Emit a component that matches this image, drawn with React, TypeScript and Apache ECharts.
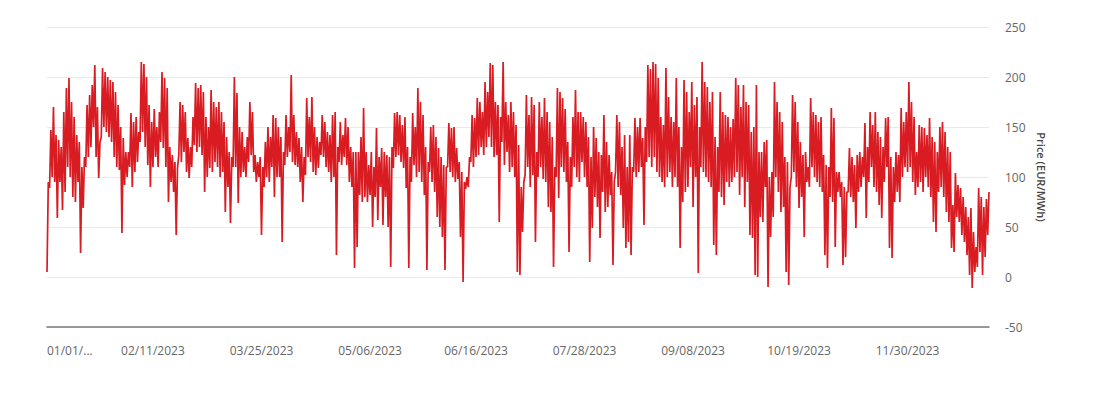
import React, { useEffect, useRef } from "react";
import * as echarts from "echarts";

// Daily price troughs (EUR/MWh), 2023
const LOWS: number[] = [
  5, 89, 100, 95, 59, 95, 67, 85, 110, 100,
  80, 75, 95, 24, 69, 110, 120, 130, 150, 120,
  99, 140, 150, 145, 140, 135, 120, 110, 107, 44,
  92, 100, 110, 90, 105, 115, 135, 145, 130, 112,
  90, 110, 120, 110, 135, 129, 110, 75, 95, 85,
  42, 122, 115, 125, 105, 99, 110, 132, 125, 130,
  122, 85, 100, 109, 105, 115, 110, 100, 105, 65,
  90, 54, 110, 110, 74, 100, 105, 100, 115, 122,
  105, 95, 100, 42, 90, 100, 95, 110, 80, 100,
  100, 35, 112, 120, 125, 115, 112, 110, 95, 75,
  102, 120, 115, 105, 102, 109, 122, 120, 110, 105,
  95, 100, 22, 115, 112, 120, 112, 95, 90, 9,
  30, 82, 75, 80, 75, 82, 50, 80, 57, 90,
  52, 80, 50, 10, 109, 120, 122, 115, 109, 89,
  9, 95, 112, 100, 105, 95, 82, 7, 105, 95,
  85, 60, 50, 40, 7, 110, 105, 100, 95, 98,
  40, -5, 88, 90, 115, 110, 120, 122, 130, 122,
  130, 140, 130, 120, 122, 55, 135, 112, 125, 105,
  110, 100, 5, 2, 45, 102, 110, 90, 102, 35,
  100, 110, 98, 95, 70, 65, 10, 100, 79, 110,
  105, 95, 25, 90, 110, 100, 95, 115, 100, 90,
  15, 49, 80, 70, 39, 85, 65, 70, 82, 12,
  105, 90, 82, 49, 29, 35, 22, 105, 100, 105,
  110, 52, 115, 120, 110, 120, 105, 100, 95, 90,
  100, 105, 90, 100, 90, 29, 75, 85, 90, 110,
  70, 100, 4, 110, 105, 100, 95, 90, 32, 22,
  85, 80, 72, 95, 90, 95, 100, 105, 82, 100,
  70, 95, 42, 39, 2, 0, 60, 55, 90, -10,
  40, 60, 100, 85, 65, 70, 5, -8, 100, 105,
  90, 69, 80, 40, 95, 90, 110, 100, 95, 90,
  85, 22, 9, 80, 75, 30, 85, 80, 12, 20,
  85, 80, 75, 49, 85, 90, 100, 59, 95, 110,
  90, 85, 72, 59, 95, 110, 29, 19, 75, 85,
  75, 100, 110, 105, 110, 95, 82, 90, 95, 85,
  100, 90, 80, 55, 45, 85, 90, 80, 65, 55,
  29, 25, 60, 55, 42, 35, 22, 2, -11, 5,
  10, 25, 2, 20, 42,
];

// Daily price peaks (EUR/MWh), 2023
const HIGHS: number[] = [
  95, 147, 170, 142, 137, 130, 165, 189, 199, 175,
  160, 142, 135, 110, 120, 172, 182, 192, 212, 170,
  135, 209, 205, 200, 197, 195, 185, 172, 150, 139,
  125, 125, 164, 155, 160, 145, 215, 213, 200, 172,
  155, 168, 150, 165, 205, 199, 189, 130, 122, 115,
  109, 175, 172, 165, 139, 130, 160, 194, 189, 192,
  185, 160, 150, 187, 175, 170, 175, 165, 155, 140,
  125, 120, 200, 184, 150, 145, 130, 140, 175, 165,
  122, 115, 120, 110, 135, 150, 140, 162, 159, 150,
  140, 125, 162, 150, 202, 162, 145, 139, 130, 120,
  179, 160, 180, 150, 140, 135, 162, 155, 145, 142,
  162, 165, 130, 155, 142, 159, 150, 130, 125, 125,
  125, 140, 169, 125, 112, 125, 110, 149, 120, 129,
  125, 122, 120, 130, 164, 165, 162, 152, 160, 130,
  120, 164, 150, 189, 175, 162, 130, 115, 150, 152,
  140, 129, 120, 112, 110, 154, 149, 150, 129, 115,
  105, 95, 100, 120, 162, 159, 179, 175, 165, 195,
  185, 214, 212, 175, 172, 160, 215, 175, 162, 175,
  165, 152, 132, 90, 95, 182, 162, 180, 172, 125,
  175, 160, 179, 165, 155, 140, 110, 189, 185, 179,
  168, 135, 120, 160, 187, 165, 165, 160, 155, 140,
  120, 150, 139, 125, 122, 162, 135, 122, 105, 95,
  162, 155, 130, 142, 110, 142, 110, 159, 150, 159,
  139, 150, 212, 208, 215, 213, 199, 160, 152, 209,
  180, 160, 155, 199, 150, 130, 197, 185, 165, 195,
  172, 180, 150, 215, 195, 190, 175, 185, 140, 130,
  185, 165, 162, 160, 150, 158, 199, 192, 170, 192,
  175, 172, 145, 150, 192, 125, 125, 135, 137, 100,
  105, 195, 175, 165, 155, 120, 115, 90, 182, 175,
  155, 135, 122, 125, 110, 179, 165, 162, 155, 160,
  122, 112, 110, 169, 159, 105, 105, 95, 90, 85,
  129, 120, 112, 122, 125, 120, 154, 130, 165, 152,
  165, 145, 140, 130, 159, 160, 120, 110, 125, 122,
  169, 155, 165, 195, 175, 160, 125, 152, 150, 149,
  142, 159, 140, 135, 125, 150, 155, 145, 130, 125,
  72, 104, 92, 89, 80, 70, 60, 69, 45, 30,
  89, 80, 70, 78, 85,
];

const TICK_DATES: string[] = [
  "01/01/2023",
  "02/11/2023",
  "03/25/2023",
  "05/06/2023",
  "06/16/2023",
  "07/28/2023",
  "09/08/2023",
  "10/19/2023",
  "11/30/2023",
];
const FIRST_TICK_TEXT = "01/01/...";
const Y_NAME = "Price (EUR/MWh)";
const Y_MIN = -50;
const Y_MAX = 250;
const Y_STEP = 50;

function pad(n: number): string {
  return n < 10 ? "0" + n : String(n);
}

function buildCategories(days: number): string[] {
  const out: string[] = [];
  for (let d = 0; d < days; d++) {
    const dt = new Date(Date.UTC(2023, 0, 1 + d));
    const s = `${pad(dt.getUTCMonth() + 1)}/${pad(dt.getUTCDate())}/${dt.getUTCFullYear()}`;
    out.push(`${s} 04:00`, `${s} 19:00`);
  }
  return out;
}

export default function App() {
  const ref = useRef<HTMLDivElement>(null);

  useEffect(() => {
    if (!ref.current) return;
    const chart = echarts.init(ref.current, undefined, { renderer: "svg" });
    const n = Math.min(LOWS.length, HIGHS.length);
    const categories = buildCategories(n);
    const values: number[] = [];
    for (let i = 0; i < n; i++) {
      values.push(LOWS[i], HIGHS[i]);
    }
    chart.setOption({
      animation: false,
      backgroundColor: "#ffffff",
      grid: { left: 47, right: 109, top: 27, bottom: 68 },
      xAxis: {
        type: "category",
        data: categories,
        boundaryGap: false,
        axisLine: { onZero: false, lineStyle: { color: "#7a7a7a", width: 1.5 } },
        axisTick: { show: false },
        splitLine: { show: false },
        axisLabel: {
          interval: (index: number, value: string) =>
            index % 2 === 0 && TICK_DATES.indexOf(value.slice(0, 10)) >= 0,
          formatter: (value: string) => {
            const d = value.slice(0, 10);
            return d === TICK_DATES[0] ? FIRST_TICK_TEXT : d;
          },
          alignMinLabel: "left",
          color: "#666666",
          fontSize: 12,
          fontFamily: "Open Sans",
          margin: 17,
          hideOverlap: false,
        },
      },
      yAxis: {
        type: "value",
        position: "right",
        min: Y_MIN,
        max: Y_MAX,
        interval: Y_STEP,
        axisLine: { show: false },
        axisTick: { show: false },
        splitLine: { lineStyle: { color: "#e9e9e9", width: 1 } },
        axisLabel: {
          color: "#666666",
          fontSize: 12,
          fontFamily: "Open Sans",
          margin: 16,
        },
        name: Y_NAME,
        nameLocation: "middle",
        nameRotate: -90,
        nameGap: 46,
        nameTextStyle: {
          color: "#444444",
          fontSize: 11,
          fontWeight: 600,
          fontFamily: "Open Sans",
        },
      },
      series: [
        {
          type: "line",
          data: values,
          showSymbol: false,
          symbol: "none",
          silent: true,
          lineStyle: { color: "#d91b22", width: 1.7 },
        },
      ],
    });
    return () => chart.dispose();
  }, []);

  return (
    <div
      ref={ref}
      style={{ position: "fixed", left: 0, top: 0, width: 1098, height: 395, background: "#fff" }}
    />
  );
}
